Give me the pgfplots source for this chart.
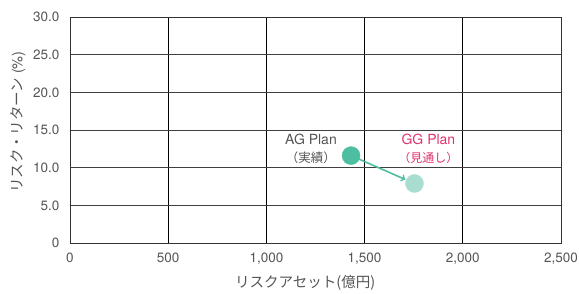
\documentclass[border=0pt]{standalone}
\usepackage{pgfplots}
\pgfplotsset{compat=1.18}
\usepackage{fontspec}
\setmainfont{TeX Gyre Heros}
\newfontfamily\jp{Noto Sans CJK JP}
\definecolor{txt}{HTML}{555555}
\definecolor{agc}{HTML}{4DBE9F}
\definecolor{ggc}{HTML}{A9DDCF}
\definecolor{red1}{HTML}{E0336A}
\begin{document}
\begin{tikzpicture}
\useasboundingbox (0,0) rectangle (579pt,294pt);
\begin{axis}[
  at={(70pt,51pt)}, anchor=south west,
  scale only axis, width=491pt, height=226pt,
  xmin=0, xmax=2500, ymin=0, ymax=30,
  xtick={0,500,1000,1500,2000,2500},
  ytick={0,5,10,15,20,25,30},
  yticklabels={0,5.0,10.0,15.0,20.0,25.0,30.0},
  xticklabels={0,500,{1,000},{1,500},{2,000},{2,500}},
  major tick length=0pt,
  grid=major,
  x grid style={black, line width=0.8pt},
  y grid style={black!75, line width=0.8pt},
  axis line style={black!80, line width=0.8pt},
  tick label style={font=\fontsize{13.5pt}{15pt}\selectfont, text=txt},
  xticklabel style={yshift=-6pt},
  yticklabel style={xshift=-7pt},
  /pgf/number format/assume math mode=true,
  xlabel={{\jp リスクアセット(億円)}},
  ylabel={{\jp リスク・リターン} (\%)},
  label style={font=\fontsize{14.5pt}{16pt}\selectfont, text=txt},
  xlabel style={at={(axis description cs:0.479,-0.177)}, anchor=center},
  ylabel style={at={(axis description cs:-0.106,0.535)}, anchor=center},
  clip=false,
]
\addplot[agc, line width=1.6pt, -{>[scale=1.1]}, shorten <=8pt, shorten >=10pt] coordinates {(1431,11.6) (1754,7.9)};
\addplot[only marks, mark=*, mark size=9pt, color=agc] coordinates {(1431,11.6)};
\addplot[only marks, mark=*, mark size=9pt, color=ggc] coordinates {(1754,7.9)};
\node[text=txt, font=\fontsize{14pt}{18pt}\selectfont, align=center] at (axis cs:1227,12.5) {AG Plan\\{\jp\fontsize{12.5pt}{18pt}\selectfont （実績）}};
\node[text=red1, font=\fontsize{14pt}{18pt}\selectfont, align=center] at (axis cs:1825,12.5) {GG Plan\\{\jp\fontsize{12pt}{18pt}\selectfont （見通し）}};
\end{axis}
\end{tikzpicture}
\end{document}
